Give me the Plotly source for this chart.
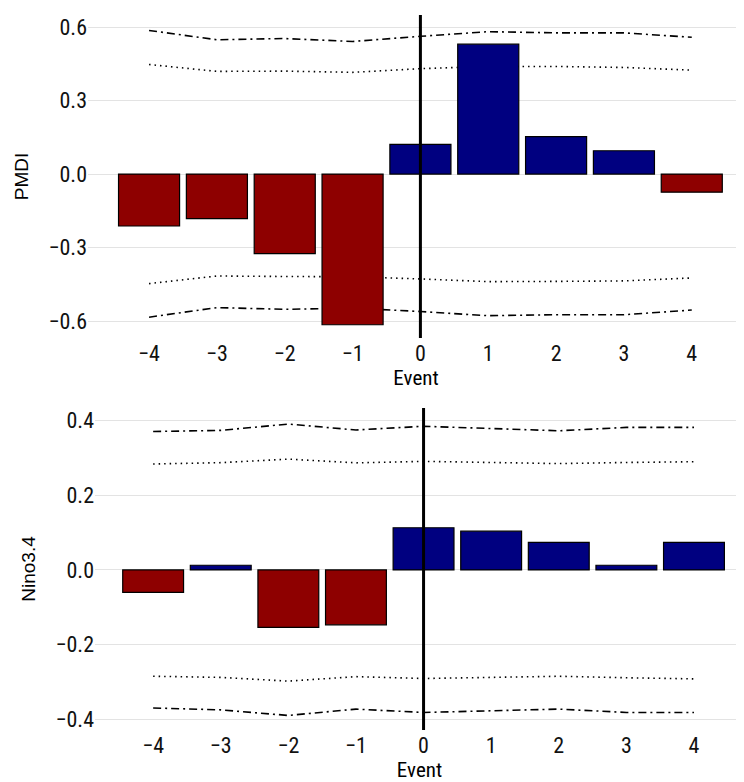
import plotly.graph_objects as go

events = [-4, -3, -2, -1, 0, 1, 2, 3, 4]
event_labels = ["−4", "−3", "−2", "−1", "0", "1", "2", "3", "4"]

pmdi = [-0.212, -0.182, -0.325, -0.615, 0.121, 0.530, 0.153, 0.095, -0.074]
pmdi_dashdot_hi = [0.586, 0.548, 0.553, 0.541, 0.562, 0.581, 0.576, 0.576, 0.558]
pmdi_dotted_hi = [0.447, 0.419, 0.420, 0.415, 0.430, 0.439, 0.439, 0.435, 0.424]
pmdi_dotted_lo = [-0.447, -0.416, -0.418, -0.419, -0.428, -0.439, -0.438, -0.436, -0.424]
pmdi_dashdot_lo = [-0.584, -0.545, -0.552, -0.547, -0.561, -0.578, -0.574, -0.574, -0.555]

nino = [-0.060, 0.0125, -0.154, -0.147, 0.113, 0.104, 0.074, 0.0125, 0.074]
nino_dashdot_hi = [0.371, 0.374, 0.391, 0.375, 0.385, 0.379, 0.373, 0.382, 0.382]
nino_dotted_hi = [0.284, 0.2875, 0.297, 0.287, 0.291, 0.288, 0.285, 0.288, 0.290]
nino_dotted_lo = [-0.285, -0.288, -0.298, -0.286, -0.291, -0.287, -0.285, -0.289, -0.292]
nino_dashdot_lo = [-0.370, -0.375, -0.390, -0.373, -0.382, -0.378, -0.373, -0.382, -0.382]

pmdi_ticks = [-0.6, -0.3, 0.0, 0.3, 0.6]
nino_ticks = [-0.4, -0.2, 0.0, 0.2, 0.4]

RED = "#8E0000"
BLUE = "#000080"
DASHDOT = "8px,4px,2px,4px"
DOT = "1.5px,4px"

W, H = 736, 774  # page body adds an 8px offset

fig = go.Figure()

def add_panel(vals, dd_hi, dt_hi, dt_lo, dd_lo, base, over):
    xb, yb = ("x", "y") if base == 1 else (f"x{base}", f"y{base}")
    xo, yo = f"x{over}", f"y{over}"
    for arr, dash in [(dd_hi, DASHDOT), (dt_hi, DOT), (dt_lo, DOT), (dd_lo, DASHDOT)]:
        fig.add_trace(go.Scatter(x=events, y=arr, mode="lines", xaxis=xb, yaxis=yb,
                                 line=dict(color="black", width=1.6, dash=dash),
                                 showlegend=False, hoverinfo="skip"))
    colors = [RED if v < 0 else BLUE for v in vals]
    fig.add_trace(go.Bar(x=events, y=vals, xaxis=xo, yaxis=yo, width=0.9,
                         marker=dict(color=colors, line=dict(color="black", width=1.2)),
                         showlegend=False))

add_panel(pmdi, pmdi_dashdot_hi, pmdi_dotted_hi, pmdi_dotted_lo, pmdi_dashdot_lo, 1, 3)
add_panel(nino, nino_dashdot_hi, nino_dotted_hi, nino_dotted_lo, nino_dashdot_lo, 2, 4)

NARROW = ("Liberation Sans Narrow, Arial Narrow, Roboto Condensed, Noto Sans Condensed, "
          "Open Sans Condensed, DejaVu Sans Condensed, sans-serif")
TICKFONT = dict(family=NARROW, size=22, color="#111111")
TITLEFONT_X = dict(family=NARROW, size=21, color="black")
TITLEFONT_Y = dict(family="Liberation Sans, Arial, sans-serif", size=19, color="black")
GRID = "#E3E3E3"

top_dom_x = [80 / W, 1]
top_dom_y = [(H - 330) / H, (H - 7) / H]
bot_dom_x = [87 / W, 1]
bot_dom_y = [(H - 722) / H, (H - 400) / H]
top_xr = [-4.9, 4.77]
bot_xr = [-4.86, 4.74]
top_yr = [-0.669, 0.649]
bot_yr = [-0.429, 0.434]

def xax(dom, rng, anchor):
    return dict(domain=dom, range=rng, anchor=anchor, tickvals=events, ticktext=event_labels,
                showgrid=False, zeroline=False, showline=False, ticks="",
                tickfont=TICKFONT, title=dict(text="Event", font=TITLEFONT_X, standoff=4),
                automargin=False)

def yax(dom, rng, anchor, ticks, title, standoff):
    return dict(domain=dom, range=rng, anchor=anchor, tickvals=ticks, tickformat=".1f",
                showgrid=True, gridcolor=GRID, gridwidth=1.2, zeroline=False, showline=False,
                ticks="", tickfont=TICKFONT, title=dict(text=title, font=TITLEFONT_Y, standoff=standoff),
                automargin=False)

def hid(dom, rng, anchor, overlay):
    return dict(domain=dom, range=rng, anchor=anchor, overlaying=overlay, visible=False,
                showgrid=False, zeroline=False)

fig.update_layout(
    width=W, height=H,
    margin=dict(l=0, r=0, t=0, b=0),
    paper_bgcolor="white", plot_bgcolor="white",
    xaxis=xax(top_dom_x, top_xr, "y"),
    yaxis=yax(top_dom_y, top_yr, "x", pmdi_ticks, "PMDI", 14),
    xaxis2=xax(bot_dom_x, bot_xr, "y2"),
    yaxis2=yax(bot_dom_y, bot_yr, "x2", nino_ticks, "Nino3.4", 14),
    xaxis3=hid(top_dom_x, top_xr, "y3", "x"),
    yaxis3=hid(top_dom_y, top_yr, "x3", "y"),
    xaxis4=hid(bot_dom_x, bot_xr, "y4", "x2"),
    yaxis4=hid(bot_dom_y, bot_yr, "x4", "y2"),
    shapes=[
        dict(type="line", xref="x3", yref="y3 domain", x0=0, x1=0, y0=0, y1=1,
             line=dict(color="black", width=3), layer="above"),
        dict(type="line", xref="x4", yref="y4 domain", x0=0, x1=0, y0=0, y1=1,
             line=dict(color="black", width=3), layer="above"),
    ],
)

fig.write_html("out.html")
